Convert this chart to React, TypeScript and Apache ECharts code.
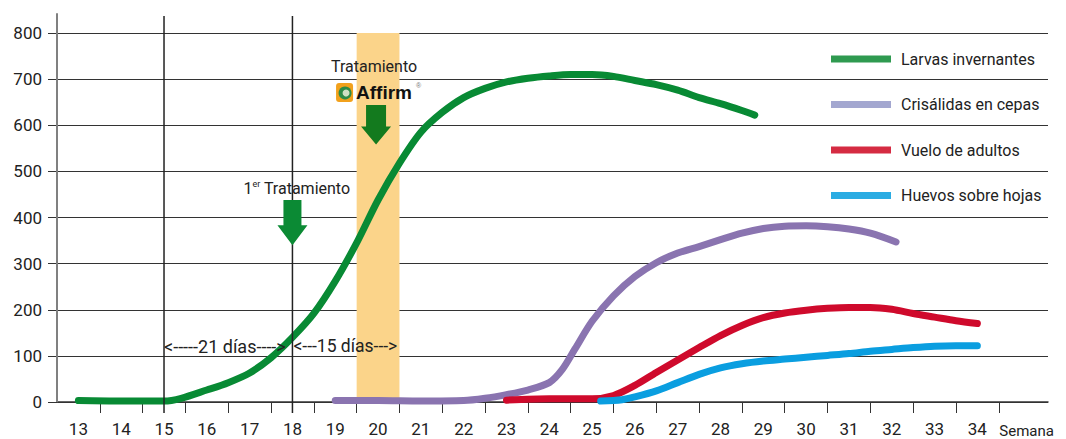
import React, { useEffect, useRef } from "react";
import * as echarts from "echarts";

const FONT = "Roboto, 'Liberation Sans', sans-serif";

const SERIES_NAMES = ["Larvas invernantes", "Crisálidas en cepas", "Vuelo de adultos", "Huevos sobre hojas"];
const LINE_COLORS = ["#088a34", "#8a74b0", "#cf0a2c", "#0a9ee0"];
const LEGEND_COLORS = ["#2f9a50", "#a3a7d0", "#d52b42", "#2aace3"];

const WEEK_LABELS = [13, 14, 15, 16, 17, 18, 19, 20, 21, 22, 23, 24, 25, 26, 27, 28, 29, 30, 31, 32, 33, 34];
const Y_TICKS = [0, 100, 200, 300, 400, 500, 600, 700, 800];

const larvas: number[][] = [
  [13, 3], [14, 2], [15, 2], [15.4, 8], [16, 26], [16.5, 42], [17, 63], [17.5, 96], [18, 140], [18.5, 192],
  [19, 262], [19.5, 345], [20, 438], [20.5, 518], [21, 585], [21.5, 628], [22, 660], [22.5, 680], [23, 694],
  [23.5, 702], [24, 707], [24.5, 710], [25, 710], [25.5, 706], [26, 697], [26.5, 688], [27, 676], [27.5, 660],
  [28, 647], [28.5, 632], [28.8, 622],
];
const crisalidas: number[][] = [
  [19, 3], [20, 3], [21, 2], [22, 3], [22.5, 8], [23, 16], [23.5, 26], [24, 42], [24.3, 70], [24.6, 115],
  [25, 175], [25.5, 230], [26, 272], [26.5, 302], [27, 323], [27.5, 337], [28, 352], [28.5, 366], [29, 376],
  [29.5, 381], [30, 382], [30.5, 380], [31, 375], [31.5, 366], [32.1, 347],
];
const vuelo: number[][] = [
  [23, 4], [24, 7], [25, 7], [25.5, 14], [26, 36], [26.5, 64], [27, 91], [27.5, 118], [28, 144], [28.5, 166],
  [29, 183], [29.5, 193], [30, 199], [30.5, 203], [31, 205], [31.5, 205], [32, 201], [32.5, 192], [33, 184],
  [33.5, 176], [34, 170],
];
const huevos: number[][] = [
  [25.2, 2], [25.7, 5], [26, 11], [26.5, 24], [27, 42], [27.5, 60], [28, 74], [28.5, 83], [29, 89], [29.5, 93],
  [30, 97], [30.5, 101], [31, 105], [31.5, 110], [32, 114], [32.5, 118], [33, 121], [33.5, 122], [34, 122],
];
const SERIES_DATA = [larvas, crisalidas, vuelo, huevos];

const BAND = [19.5, 20.5];
const TREAT_WEEKS = [15, 18];
const AXIS_TOP_VALUE = 843;
const VLINE_TOP_VALUE = 837;

export default function App() {
  const ref = useRef<HTMLDivElement>(null);
  useEffect(() => {
    if (!ref.current) return;
    const chart = echarts.init(ref.current, null, { renderer: "svg" });
    const option: any = {
      animation: false,
      textStyle: { fontFamily: FONT },
      grid: { left: 57, right: 18, top: 33, bottom: 37 },
      legend: {
        orient: "vertical",
        left: 826,
        top: 46,
        itemWidth: 60,
        itemHeight: 7,
        itemGap: 29.5,
        icon: "rect",
        textStyle: { fontSize: 16, color: "#222", fontFamily: FONT, padding: [0, 0, 0, 5] },
        data: SERIES_NAMES.map((n, i) => ({ name: n, itemStyle: { color: LEGEND_COLORS[i] } })),
      },
      xAxis: {
        type: "value",
        min: 12.5,
        max: 35.65,
        axisLine: { show: true, lineStyle: { color: "#333", width: 1.5 } },
        axisTick: {
          show: true,
          length: 11,
          lineStyle: { color: "#333", width: 1 },
          customValues: WEEK_LABELS.map((w) => w + 0.5),
        },
        axisLabel: {
          customValues: WEEK_LABELS,
          fontSize: 17,
          color: "#222",
          margin: 18,
          fontFamily: FONT,
        },
        splitLine: { show: false },
      },
      yAxis: {
        type: "value",
        min: 0,
        max: 800,
        interval: 100,
        axisLine: { show: true, lineStyle: { color: "#808080", width: 2 } },
        axisTick: { show: true, length: 9, lineStyle: { color: "#333" } },
        axisLabel: { fontSize: 17, color: "#222", margin: 15, fontFamily: FONT, customValues: Y_TICKS },
        splitLine: { show: true, lineStyle: { color: "#333", width: 1 } },
      },
      series: [
        {
          name: "band",
          type: "line",
          data: [],
          z: -1,
          silent: true,
          markArea: {
            silent: true,
            itemStyle: { color: "#fbd48a" },
            data: [[{ xAxis: BAND[0], yAxis: 0 }, { xAxis: BAND[1], yAxis: 800 }]],
          },
        },
        ...SERIES_NAMES.map((n, i) => ({
          name: n,
          type: "line",
          data: SERIES_DATA[i],
          smooth: 0.3,
          showSymbol: false,
          symbol: "none",
          z: 5,
          itemStyle: { color: LINE_COLORS[i] },
          lineStyle: { color: LINE_COLORS[i], width: 7, cap: "round", join: "round" },
        })),
      ],
    };
    chart.setOption(option);

    const p = (x: number, y: number) => chart.convertToPixel({ gridIndex: 0 }, [x, y]) as number[];
    const [axX, axTop] = p(12.5, AXIS_TOP_VALUE);
    const [, axBottom] = p(12.5, 0);
    const graphics: any[] = [];
    graphics.push({
      type: "line",
      shape: { x1: axX, y1: axTop, x2: axX, y2: axBottom },
      style: { stroke: "#808080", lineWidth: 2 },
      z: 10,
    });
    TREAT_WEEKS.forEach((w) => {
      const [vx, vTop] = p(w, VLINE_TOP_VALUE);
      graphics.push({
        type: "line",
        shape: { x1: vx, y1: vTop, x2: vx, y2: axBottom + 11 },
        style: { stroke: "#222", lineWidth: 1.5 },
        z: 10,
      });
    });
    const arrow = (cx: number, top: number, headTop: number, tip: number, sw: number, hw: number, color: string) => ({
      type: "polygon",
      shape: {
        points: [
          [cx - sw, top], [cx + sw, top], [cx + sw, headTop], [cx + hw, headTop],
          [cx, tip], [cx - hw, headTop], [cx - sw, headTop],
        ],
      },
      style: { fill: color },
      z: 20,
    });
    const [a1x] = p(18, 0);
    const [, a1Top] = p(18, 438);
    const [, a1Tip] = p(18, 340);
    graphics.push(arrow(a1x, a1Top, a1Tip - 20, a1Tip, 9, 15, "#0b8a34"));
    const [a2x] = p(20, 0);
    const [, a2Top] = p(20, 644);
    const [, a2Tip] = p(20, 558);
    graphics.push(arrow(a2x - 2, a2Top, a2Tip - 18, a2Tip, 10, 15, "#137a1e"));

    graphics.push({
      type: "text",
      x: a1x - 49,
      y: a1Top - 11,
      style: {
        text: "{a|1}{b|er}{a| Tratamiento}",
        verticalAlign: "middle",
        rich: {
          a: { fontSize: 16, fill: "#222", fontFamily: FONT },
          b: { fontSize: 9, fill: "#222", fontFamily: FONT, padding: [0, 0, 9, 0] },
        },
      },
      z: 20,
    });
    graphics.push({
      type: "text",
      x: a2x - 4,
      y: a2Top - 38,
      style: {
        text: "Tratamiento",
        fontSize: 16,
        fill: "#222",
        fontFamily: FONT,
        align: "center",
        verticalAlign: "middle",
      },
      z: 20,
    });
    const lx = a2x - 42;
    const ly = a2Top - 22;
    graphics.push({ type: "rect", shape: { x: lx, y: ly, width: 17, height: 19, r: 3 }, style: { fill: "#f2a11c" }, z: 20 });
    graphics.push({ type: "circle", shape: { cx: lx + 9, cy: ly + 10, r: 6.5 }, style: { fill: "#2d8b46" }, z: 21 });
    graphics.push({ type: "circle", shape: { cx: lx + 10, cy: ly + 10, r: 3.5 }, style: { fill: "#cfe0c3" }, z: 22 });
    graphics.push({
      type: "text",
      x: lx + 20,
      y: ly + 10,
      style: { text: "Affirm", fontSize: 19, fontWeight: "bold", fill: "#111", fontFamily: "'Liberation Sans', Arial, sans-serif", verticalAlign: "middle" },
      z: 20,
    });
    graphics.push({
      type: "text",
      x: lx + 80,
      y: ly + 3,
      style: { text: "®", fontSize: 7, fill: "#777", fontFamily: "'Liberation Sans', Arial, sans-serif", verticalAlign: "middle" },
      z: 20,
    });
    const [d1x, dy] = p(15, 121);
    const [d2x] = p(18, 121);
    graphics.push({
      type: "text",
      x: d1x,
      y: dy,
      style: { text: "<-----21 días---->", fontSize: 18, fill: "#222", fontFamily: FONT, verticalAlign: "middle" },
      z: 20,
    });
    graphics.push({
      type: "text",
      x: d2x + 1,
      y: dy,
      style: { text: "<---15 días--->", fontSize: 17.5, fill: "#222", fontFamily: FONT, verticalAlign: "middle" },
      z: 20,
    });
    const [sx, sy] = p(35.15, 0);
    graphics.push({
      type: "text",
      x: sx,
      y: sy + 29,
      style: { text: "Semana", fontSize: 15, fill: "#222", fontFamily: FONT, align: "center", verticalAlign: "middle" },
      z: 20,
    });
    chart.setOption({ graphic: graphics });
    return () => chart.dispose();
  }, []);
  return <div ref={ref} style={{ position: "absolute", left: 0, top: 0, width: 1066, height: 439 }} />;
}
